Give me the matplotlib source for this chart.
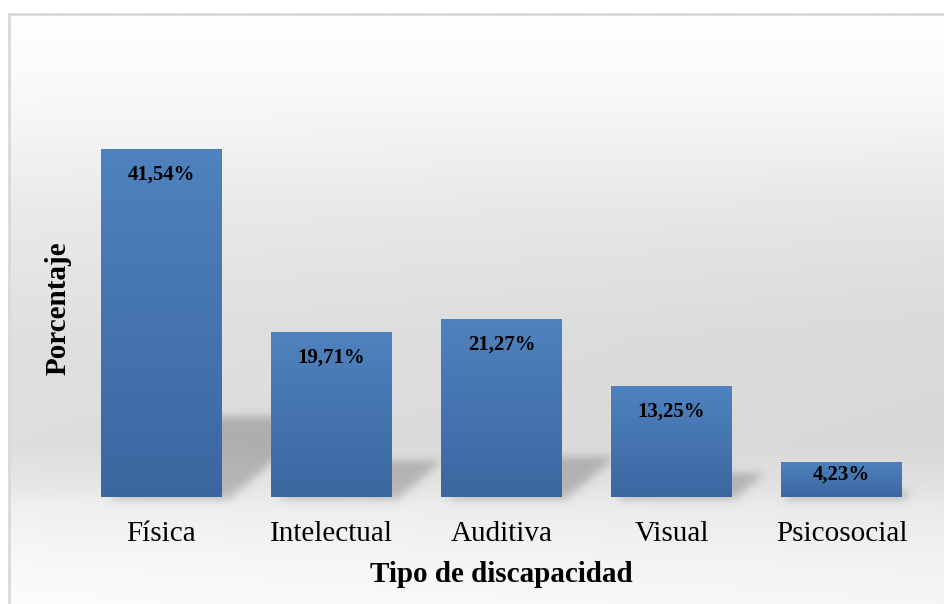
import numpy as np
import matplotlib
matplotlib.use("Agg")
import matplotlib.pyplot as plt
from matplotlib.path import Path
from matplotlib.patches import Rectangle
from matplotlib.colors import to_rgb

# data
categorias = ["Física", "Intelectual", "Auditiva", "Visual", "Psicosocial"]
porcentajes = [41.54, 19.71, 21.27, 13.25, 4.23]
etiquetas = ["41,54%", "19,71%", "21,27%", "13,25%", "4,23%"]

W, H = 944, 604
SERIF = ["Liberation Serif", "DejaVu Serif"]


def lerp_stops(pos, stops):
    """piecewise linear grey levels; stops = [(pos, value), ...]"""
    p = [s[0] for s in stops]
    v = [s[1] for s in stops]
    return np.interp(pos, p, v)


def gauss_blur(img, sigma):
    r = int(3 * sigma)
    k = np.exp(-0.5 * (np.arange(-r, r + 1) / sigma) ** 2)
    k /= k.sum()
    out = np.apply_along_axis(lambda m: np.convolve(m, k, mode="same"), 0, img)
    out = np.apply_along_axis(lambda m: np.convolve(m, k, mode="same"), 1, out)
    return out


fig = plt.figure(figsize=(W / 100, H / 100), dpi=100)
fig.patch.set_facecolor("white")

# background layer in pixel coordinates (y up)
bg = fig.add_axes([0, 0, 1, 1], zorder=0)
bg.set_xlim(0, W)
bg.set_ylim(0, H)
bg.axis("off")

# plot area
ax = fig.add_axes([76.5 / W, (H - 497) / H, 850 / W, 377 / H], zorder=1)
ax.patch.set_alpha(0)
x = np.arange(len(categorias))
ax.set_xlim(-0.5, len(categorias) - 0.5)
ax.set_ylim(0, 45)

# grey gradient of the chart area
yy = np.arange(H)[::-1] + 0.5          # distance from top, row 0 at bottom
xx = np.arange(W) + 0.5
col = lerp_stops(yy, [(14, 254), (90, 248), (200, 234), (330, 224),
                      (440, 222), (480, 230), (505, 240), (560, 248), (604, 252)])
shade = col[:, None] - 6 * (xx[None, :] / W) * np.clip((yy[:, None] - 60) / 200, 0, 1)

# perspective shadows cast by the bars
gx, gy = np.meshgrid(xx, np.arange(H) + 0.5)
pts = np.column_stack([gx.ravel(), gy.ravel()])
mask = np.zeros((H, W))
ancho = 0.71
for xi, v in zip(x, porcentajes):
    (x0, y0), (x1, y1) = ax.transData.transform([(xi - ancho / 2, 0), (xi + ancho / 2, v)])
    hs = 0.245 * (y1 - y0)
    dx = 1.15 * hs
    poly = Path([(x0, y0), (x1, y0), (x1 + dx, y0 + hs), (x0 + dx, y0 + hs), (x0, y0)])
    mask = np.maximum(mask, poly.contains_points(pts).reshape(H, W).astype(float))
mask = gauss_blur(mask, 4.5)
shade = shade - 46 * mask

img = np.clip(shade / 255.0, 0, 1)
rgb = np.dstack([img, img, img])
bg.imshow(rgb, extent=(9, W, 0, H - 14), origin="lower", aspect="auto",
          interpolation="bilinear")
bg.add_patch(Rectangle((9, -5), W, H - 14 + 5, fill=False, edgecolor="#d9d9d9", lw=2))

# bars with vertical gradient
top_c = np.array(to_rgb("#4f82be"))
bot_c = np.array(to_rgb("#3b67a0"))
grad = np.linspace(0, 1, 256)[:, None, None] * (top_c - bot_c) + bot_c
bars = ax.bar(x, porcentajes, width=ancho, color="#4572ad", zorder=2)
for b in bars:
    im = ax.imshow(grad, extent=(b.get_x(), b.get_x() + b.get_width(), 0, b.get_height()),
                   origin="lower", aspect="auto", zorder=3, interpolation="bilinear")
    im.set_clip_path(b)

# value labels inside the top of each bar
px_per_unit = 377 / 45
for xi, v, lab in zip(x, porcentajes, etiquetas):
    off = min(26, 0.37 * v * px_per_unit) * 0.72
    ax.annotate(lab, (xi, v), xytext=(0, -off), textcoords="offset points",
                ha="center", va="center", fontsize=15, fontweight="bold",
                family=SERIF, color="black", zorder=4)

ax.set_xticks(x)
ax.set_xticklabels(categorias, family=SERIF, fontsize=21)
ax.tick_params(axis="x", length=0, pad=17)
ax.set_yticks([])
for s in ax.spines.values():
    s.set_visible(False)

fig.text(501.5 / W, 1 - 574 / H, "Tipo de discapacidad", ha="center", va="center",
         fontsize=21, fontweight="bold", family=SERIF)
fig.text(58 / W, 1 - 308 / H, "Porcentaje", ha="center", va="center", rotation=90,
         fontsize=21, fontweight="bold", family=SERIF)

fig.savefig("out.png", dpi=100)
